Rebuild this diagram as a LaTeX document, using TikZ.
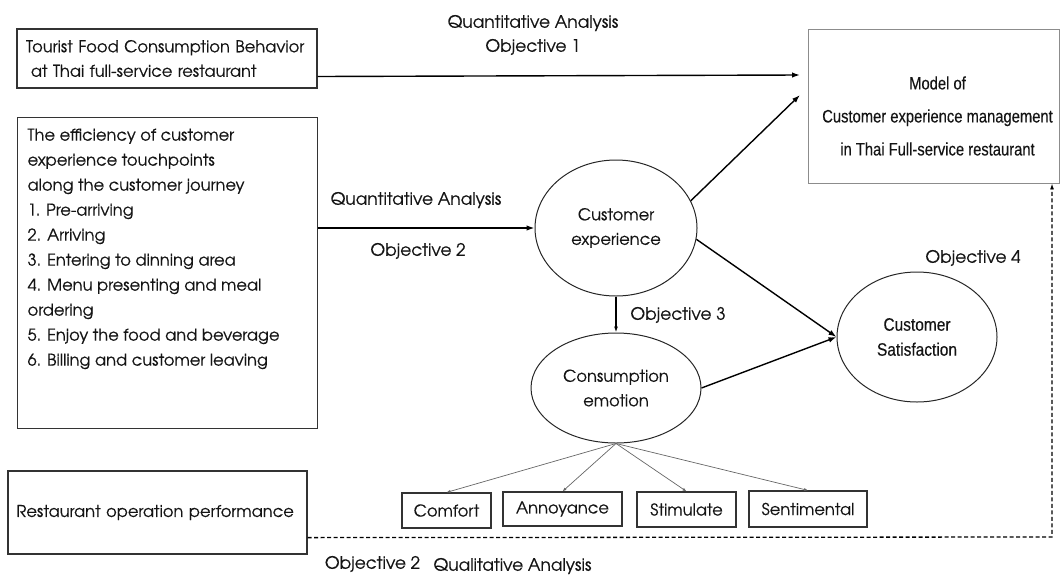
\documentclass[tikz,border=0pt]{standalone}
\usepackage{fontspec}
\setmainfont{texgyreadventor-regular.otf}[FakeBold=0.4]
\newfontfamily\narrowfont[FakeStretch=0.82,FakeBold=0.3]{Liberation Sans}
\newfontfamily\narrowfontb[FakeStretch=0.86,FakeBold=0.3]{Liberation Sans}
\usetikzlibrary{arrows.meta,shapes.geometric}
\begin{document}
\begin{tikzpicture}[x=1pt,y=-1pt,
  every node/.style={font=\fontsize{16.3}{24.5}\selectfont, text=black!92},
  box/.style={draw=black!80, line width=1.2pt, rectangle, inner sep=0pt},
  oval/.style={draw=black!85, line width=1pt, ellipse, inner sep=0pt, align=center},
  small/.style={draw=black!80, line width=1.2pt, rectangle, inner sep=0pt},
  arr/.style={draw=black, line width=1.4pt, -{Latex[length=8pt,width=5.5pt]}},
  thin/.style={draw=black!60, line width=0.7pt, -{Latex[length=4pt,width=3pt]}},
  lbl/.style={align=center, inner sep=0pt, font=\fontsize{17}{24}\selectfont}]
\useasboundingbox (0,0) rectangle (1060,574);
% boxes
\node[box, minimum width=300pt, minimum height=59pt, text width=282pt, align=left] (b1) at (167,58.5)
  {Tourist Food Consumption Behavior\\\hspace*{0.3em}at Thai full-service restaurant};
\node[box, anchor=north west, inner xsep=10pt, inner ysep=0pt] (b2) at (17,117)
  {\parbox[c][311pt][t]{280pt}{\fontsize{16.3}{25}\selectfont\vspace*{11pt}The efficiency of customer\\experience touchpoints\\along the customer journey\\1. Pre-arriving\\2. Arriving\\3. Entering to dinning area\\4. Menu presenting and meal\\ordering\\5. Enjoy the food and beverage\\6. Billing and customer leaving}};
\node[box, minimum width=299pt, minimum height=83pt, text width=282pt, align=left] (rest) at (157.5,512.5)
  {Restaurant operation performance};
\node[draw=black!45, line width=0.8pt, rectangle, inner sep=0pt] (model) at (933.5,106)
  {\parbox[c][154pt][c]{251pt}{\centering\narrowfont\fontsize{18}{33}\selectfont\vspace*{20pt}\hspace*{8pt}Model of\\\hspace*{8pt}Customer experience management\\\hspace*{8pt}in Thai Full-service restaurant}};
% ovals
\node[oval, minimum width=162pt, minimum height=136pt] (ce) at (616,228) {Customer\\experience};
\node[oval, minimum width=170pt, minimum height=110pt] (em) at (616,388) {Consumption\\emotion};
\node[oval, minimum width=160pt, minimum height=130pt, font=\narrowfontb\fontsize{18}{25}\selectfont] (cs) at (917,337) {Customer\\Satisfaction};
% small boxes
\node[small, minimum width=89pt, minimum height=35pt] (comfort) at (446.5,510.5) {Comfort};
\node[small, minimum width=119pt, minimum height=34pt] (annoy) at (562.5,509) {Annoyance};
\node[small, minimum width=99pt, minimum height=35pt] (stim) at (686.5,509.5) {Stimulate};
\node[small, minimum width=118pt, minimum height=36pt] (senti) at (808,509) {Sentimental};
% labels
\node[lbl] (lq1) at (533,35) {Quantitative Analysis\\Objective 1};
\node[lbl] (lq2) at (416,200) {Quantitative Analysis};
\node[lbl] (lo2) at (418,251) {Objective 2};
\node[lbl] (lo3) at (678,315) {Objective 3};
\node[lbl] (lo4) at (973,258) {Objective 4};
\node[lbl] (lo2b) at (372.5,564) {Objective 2};
\node[lbl] (lql) at (512.5,566) {Qualitative Analysis};
% coordinates
\coordinate (m1) at (800,75);
\coordinate (m2) at (800,95);
\coordinate (d1) at (1052,537);
% connectors
\draw[arr] ([yshift=-18pt]b1.east) -- (m1);
\draw[arr] (b2.east |- ce.west) -- (ce.west);
\draw[arr] (ce.20) -- (m2);
\draw[arr] (ce.-8) -- (cs.west);
\draw[arr] (em.east) -- (cs.west);
\draw[draw=black, line width=1.2pt, -{Latex[length=6pt,width=4pt]}] (ce.south) -- (em.north);
\draw[thin] (em.south) -- (comfort.north);
\draw[thin] (em.south) -- (annoy.north);
\draw[thin] (em.south) -- (stim.north);
\draw[thin] (em.south) -- (senti.north);
\draw[draw=black, line width=1.3pt, dash pattern=on 4pt off 2.5pt, -{Latex[length=6pt,width=4pt]}]
  ([yshift=17pt]rest.south east) -- (d1) -- (d1 |- model.south);
\end{tikzpicture}
\end{document}
